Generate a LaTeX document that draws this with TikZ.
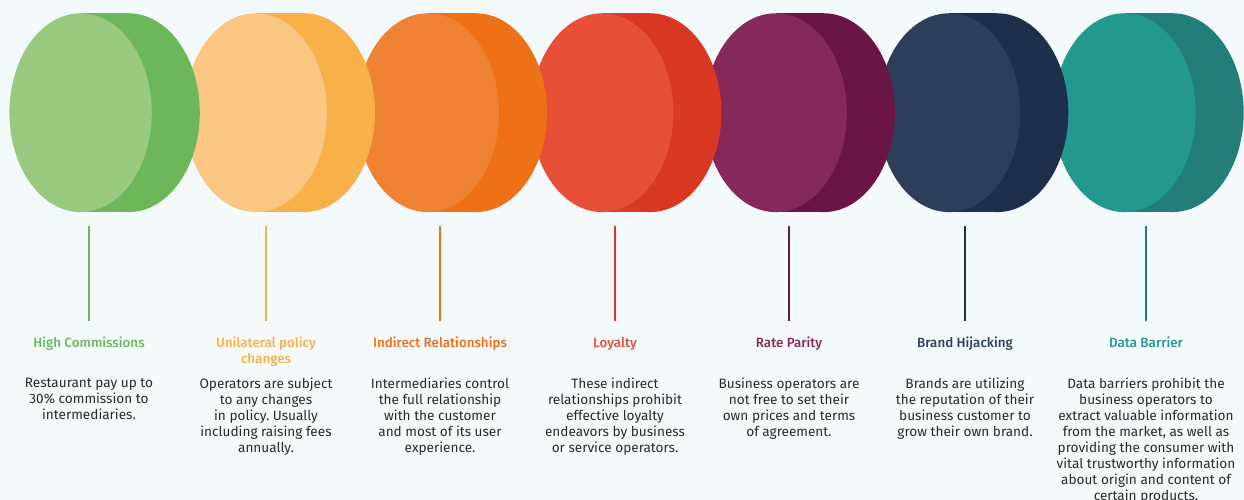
\documentclass[tikz,border=0pt]{standalone}
\usepackage{fontspec}
\setmainfont{Fira Sans}
\newfontfamily\medfont{Fira Sans Medium}
\frenchspacing
\usepackage{tikz}
\usetikzlibrary{shapes.geometric}
\definecolor{bgblue}{HTML}{F4F9FC}
\definecolor{bodytext}{HTML}{2A2A2A}
\definecolor{greenfront}{HTML}{98C97F}
\definecolor{greenback}{HTML}{6BB75A}
\definecolor{peachfront}{HTML}{F9C683}
\definecolor{peachback}{HTML}{F8B048}
\definecolor{orangefront}{HTML}{EF8133}
\definecolor{orangeback}{HTML}{EE7118}
\definecolor{redfront}{HTML}{E84F37}
\definecolor{redback}{HTML}{D93822}
\definecolor{plumfront}{HTML}{85295A}
\definecolor{plumback}{HTML}{6B1545}
\definecolor{navyfront}{HTML}{2E3D5A}
\definecolor{navyback}{HTML}{1E2F4B}
\definecolor{tealfront}{HTML}{23988E}
\definecolor{tealback}{HTML}{237D79}
\tikzstyle{coin} = [ellipse, minimum width=142.4pt, minimum height=198.8pt, inner sep=0pt]
\tikzstyle{head} = [font=\medfont\fontsize{13.4}{16}\selectfont, align=center, inner sep=0pt, anchor=north]
\tikzstyle{desc} = [font=\fontsize{13.6}{16}\selectfont, text=bodytext, align=center, inner sep=0pt, anchor=north]
\tikzstyle{stem} = [line width=2pt]

\begin{document}
\begin{tikzpicture}[x=1pt, y=-1pt]
            \fill [bgblue] (0,0) rectangle (1244,500);
            \useasboundingbox (0,0) rectangle (1244,500);
            % coins, last one first so the earlier ones lie on top
            \node (b7) [coin, fill=tealback] at (1172.5,112.7) {};
            \fill [tealback] ([xshift=-48pt]b7.north) rectangle (b7.south);
            \node (f7) [coin, fill=tealfront] at (1124.5,112.7) {};
            \node (b6) [coin, fill=navyback] at (997.1,112.7) {};
            \fill [navyback] ([xshift=-48pt]b6.north) rectangle (b6.south);
            \node (f6) [coin, fill=navyfront] at (949.1,112.7) {};
            \node (b5) [coin, fill=plumback] at (823.7,112.7) {};
            \fill [plumback] ([xshift=-48pt]b5.north) rectangle (b5.south);
            \node (f5) [coin, fill=plumfront] at (775.7,112.7) {};
            \node (b4) [coin, fill=redback] at (650.2,112.7) {};
            \fill [redback] ([xshift=-48pt]b4.north) rectangle (b4.south);
            \node (f4) [coin, fill=redfront] at (602.2,112.7) {};
            \node (b3) [coin, fill=orangeback] at (475.8,112.7) {};
            \fill [orangeback] ([xshift=-48pt]b3.north) rectangle (b3.south);
            \node (f3) [coin, fill=orangefront] at (427.8,112.7) {};
            \node (b2) [coin, fill=peachback] at (303.8,112.7) {};
            \fill [peachback] ([xshift=-48pt]b2.north) rectangle (b2.south);
            \node (f2) [coin, fill=peachfront] at (255.8,112.7) {};
            \node (b1) [coin, fill=greenback] at (128.6,112.7) {};
            \fill [greenback] ([xshift=-48pt]b1.north) rectangle (b1.south);
            \node (f1) [coin, fill=greenfront] at (80.6,112.7) {};
            % stems
            \coordinate (s1a) at (89,226);   \coordinate (s1b) at (89,321);
            \coordinate (s2a) at (266,226);  \coordinate (s2b) at (266,321);
            \coordinate (s3a) at (440,226);  \coordinate (s3b) at (440,321);
            \coordinate (s4a) at (615,226);  \coordinate (s4b) at (615,321);
            \coordinate (s5a) at (789,226);  \coordinate (s5b) at (789,321);
            \coordinate (s6a) at (965,226);  \coordinate (s6b) at (965,321);
            \coordinate (s7a) at (1146,226); \coordinate (s7b) at (1146,321);
            \draw [stem, greenback] (s1a) -- (s1b);
            \draw [stem, peachback] (s2a) -- (s2b);
            \draw [stem, orangeback] (s3a) -- (s3b);
            \draw [stem, redback] (s4a) -- (s4b);
            \draw [stem, plumback] (s5a) -- (s5b);
            \draw [stem, navyback] (s6a) -- (s6b);
            \draw [stem, tealback] (s7a) -- (s7b);
            % headings
            \node (h1) [head, text=greenback] at (89,337) {High Commissions};
            \node (h2) [head, text=peachback] at (266,337) {Unilateral policy\\changes};
            \node (h3) [head, text=orangeback] at (440,337) {Indirect Relationships};
            \node (h4) [head, text=redfront] at (615,337) {Loyalty};
            \node (h5) [head, text=plumfront] at (789,337) {Rate Parity};
            \node (h6) [head, text=navyfront] at (965,337) {Brand Hijacking};
            \node (h7) [head, text=tealfront] at (1146,337) {Data Barrier};
            % texts
            \node (d1) [desc] at (89,377.5) {Restaurant pay up to\\30\% commission to\\intermediaries.};
            \node (d2) [desc] at (266,377.5) {Operators are subject\\to any changes\\in policy. Usually\\including raising fees\\annually.};
            \node (d3) [desc] at (440,377.5) {Intermediaries control\\the full relationship\\with the customer\\and most of its user\\experience.};
            \node (d4) [desc] at (615,377.5) {These indirect\\relationships prohibit\\effective loyalty\\endeavors by business\\or service operators.};
            \node (d5) [desc] at (789,377.5) {Business operators are\\not free to set their\\own prices and terms\\of agreement.};
            \node (d6) [desc] at (965,377.5) {Brands are utilizing\\the reputation of their\\business customer to\\grow their own brand.};
            \node (d7) [desc] at (1146,377.5) {Data barriers prohibit the\\business operators to\\extract valuable information\\from the market, as well as\\providing the consumer with\\vital trustworthy information\\about origin and content of\\certain products.};
\end{tikzpicture}
\end{document}
